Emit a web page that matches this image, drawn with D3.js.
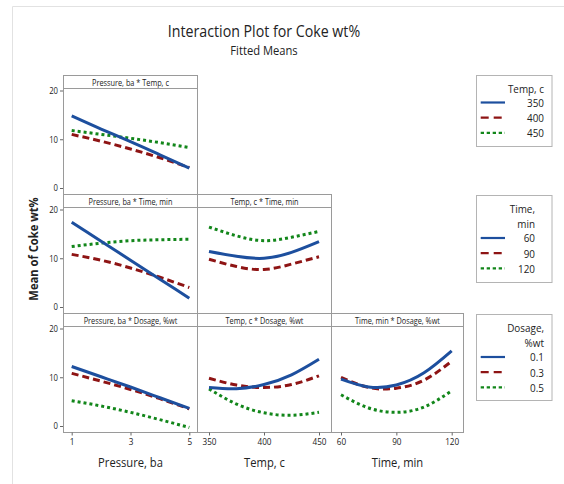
<!DOCTYPE html>
<html><head><meta charset="utf-8">
<script src="https://cdn.jsdelivr.net/npm/d3@7"></script>
<style>body{margin:0;background:#fff} text{font-family:"Open Sans",sans-serif;fill:#222}</style>
</head><body><svg id="c" width="564" height="484"></svg>
<script>
// ---- data ----
const pressure = [1, 2, 3, 4, 5];
const temps = [350, 375, 400, 425, 450];
const times = [60, 75, 90, 105, 120];
const yTicks = [0, 10, 20];

// Pressure * Temp (Temp 350 / 400 / 450)
const pT350 = [14.8, 12.1, 9.5, 6.8, 4.1];
const pT400 = [11.0, 9.6, 8.0, 6.2, 4.2];
const pT450 = [11.8, 11.0, 10.2, 9.3, 8.3];
// Pressure * Time (60 / 90 / 120)
const pTi60 = [17.4, 13.5, 9.6, 5.7, 1.8];
const pTi90 = [10.8, 9.6, 8.0, 6.1, 4.0];
const pTi120 = [12.4, 13.1, 13.6, 13.8, 13.9];
// Temp * Time (60 / 90 / 120)
const tTi60 = [11.4, 10.4, 10.0, 11.2, 13.4];
const tTi90 = [9.8, 8.3, 7.7, 8.8, 10.3];
const tTi120 = [16.4, 14.6, 13.6, 14.3, 15.5];
// Pressure * Dosage (0.1 / 0.3 / 0.5)
const pD01 = [12.2, 10.1, 8.0, 5.8, 3.6];
const pD03 = [10.8, 9.2, 7.5, 5.6, 3.5];
const pD05 = [5.2, 4.1, 2.8, 1.3, -0.3];
// Temp * Dosage
const tD01 = [7.9, 7.65, 8.5, 10.5, 13.7];
const tD03 = [9.8, 8.4, 7.9, 8.5, 10.3];
const tD05 = [7.6, 4.5, 2.7, 2.2, 2.8];
// Time * Dosage
const tiD01 = [9.6, 8.0, 8.4, 10.9, 15.4];
const tiD03 = [10.0, 7.9, 7.75, 9.4, 13.3];
const tiD05 = [6.4, 3.7, 2.8, 3.9, 7.2];

const legendTemp = ["350", "400", "450"];
const legendTime = ["60", "90", "120"];
const legendDosage = ["0.1", "0.3", "0.5"];
const pressureTicks = [1, 3, 5];
const tempTicks = [350, 400, 450];
const timeTicks = [60, 90, 120];

// ---- layout ----
const svg = d3.select("#c");
const colors = ["#1d4f9e", "#8e1414", "#12861a"];
const dashes = [null, "7,4", "3,3"];
const widths = [3, 3, 3];

const colL = [63.5, 197.5, 331.5], colR = [197.5, 331.5, 463.5];
const rowT = [75.5, 194.5, 313.5], rowB = [194.5, 313.5, 432.5];
const stripH = 13;

const xScales = [
  d3.scaleLinear().domain([1, 5]).range([71.7, 189.3]),
  d3.scaleLinear().domain([350, 450]).range([209, 319]),
  d3.scaleLinear().domain([60, 120]).range([341, 451.7])
];
const xVals = [pressure, temps, times];
const yScales = rowT.map((t, i) => d3.scaleLinear().domain([0, 20]).range([rowB[i] - 6.5, t + stripH + 2]));

const panels = [
  {r:0, c:0, title:"Pressure, ba * Temp, c", s:[pT350, pT400, pT450]},
  {r:1, c:0, title:"Pressure, ba * Time, min", s:[pTi60, pTi90, pTi120]},
  {r:1, c:1, title:"Temp, c * Time, min", s:[tTi60, tTi90, tTi120]},
  {r:2, c:0, title:"Pressure, ba * Dosage, %wt", s:[pD01, pD03, pD05]},
  {r:2, c:1, title:"Temp, c * Dosage, %wt", s:[tD01, tD03, tD05]},
  {r:2, c:2, title:"Time, min * Dosage, %wt", s:[tiD01, tiD03, tiD05]}
];

// outer frame (left + top)
svg.append("path").attr("d", "M12.5,484 V6.5 H564").attr("fill", "none").attr("stroke", "#e2e2e2");

// title
svg.append("text").attr("x", 264).attr("y", 37).attr("text-anchor", "middle").attr("font-size", 16.5).text("Interaction Plot for Coke wt%");
svg.append("text").attr("x", 264).attr("y", 55).attr("text-anchor", "middle").attr("font-size", 13).text("Fitted Means");

const lineGen = (xs, xsc, ysc) => d3.line().x((d, i) => xsc(xs[i])).y(d => ysc(d)).curve(d3.curveNatural);

panels.forEach(p => {
  const g = svg.append("g");
  const L = colL[p.c], R = colR[p.c], T = rowT[p.r], B = rowB[p.r];
  g.append("rect").attr("x", L).attr("y", T).attr("width", R - L).attr("height", B - T)
    .attr("fill", "#fff").attr("stroke", "#9a9a9a");
  g.append("line").attr("x1", L).attr("x2", R).attr("y1", T + stripH).attr("y2", T + stripH).attr("stroke", "#9a9a9a");
  g.append("text").attr("x", (L + R) / 2).attr("y", T + 10.5).attr("text-anchor", "middle")
    .attr("font-size", 8.5).text(p.title);
  const xs = xVals[p.c], xsc = xScales[p.c], ysc = yScales[p.r];
  [2, 1, 0].forEach(k => {
    g.append("path").datum(p.s[k]).attr("d", lineGen(xs, xsc, ysc))
      .attr("fill", "none").attr("stroke", colors[k]).attr("stroke-width", widths[k])
      .attr("stroke-dasharray", dashes[k]);
  });
});

// y axes on first column
[0, 1, 2].forEach(r => {
  const ax = d3.axisLeft(yScales[r]).tickValues(yTicks).tickFormat(d3.format("d")).tickSize(3).tickPadding(2);
  const g = svg.append("g").attr("transform", `translate(${colL[0] - 0.5},0)`).call(ax);
  g.select(".domain").remove();
  g.selectAll("line").attr("stroke", "#666");
  g.selectAll("text").attr("font-size", 9).attr("fill", "#222").attr("font-family", "Open Sans");
});

// x axes at bottom row
const xTickVals = [pressureTicks, tempTicks, timeTicks];
const xTitles = ["Pressure, ba", "Temp, c", "Time, min"];
[0, 1, 2].forEach(c => {
  const ax = d3.axisBottom(xScales[c]).tickValues(xTickVals[c]).tickFormat(d3.format("d")).tickSize(3).tickPadding(3);
  const g = svg.append("g").attr("transform", `translate(0,${rowB[2]})`).call(ax);
  g.select(".domain").remove();
  g.selectAll("line").attr("stroke", "#666");
  g.selectAll("text").attr("font-size", 9.5).attr("fill", "#222").attr("font-family", "Open Sans");
  svg.append("text").attr("x", (colL[c] + colR[c]) / 2).attr("y", 467).attr("text-anchor", "middle")
    .attr("font-size", 13).text(xTitles[c]);
});

// y title
svg.append("text").attr("transform", "translate(38,249) rotate(-90)").attr("text-anchor", "middle")
  .attr("font-size", 13).attr("font-weight", "bold").text("Mean of Coke wt%");

// legends
const legends = [
  {top:75, bottom:146, titles:["Temp, c"], items:legendTemp, tx:544, vx:544},
  {top:195, bottom:282, titles:["Time,", "min"], items:legendTime, tx:535, vx:535},
  {top:314, bottom:400, titles:["Dosage,", "%wt"], items:legendDosage, tx:544, vx:544}
];
const legDash = [null, "8,5", "3.3,2.7"];
legends.forEach(lg => {
  const g = svg.append("g");
  g.append("rect").attr("x", 476.5).attr("y", lg.top + 0.5).attr("width", 75.5).attr("height", lg.bottom - lg.top)
    .attr("fill", "#fff").attr("stroke", "#b4b4b4");
  let y = lg.top + 17.5;
  lg.titles.forEach((t, i) => {
    g.append("text").attr("x", lg.tx).attr("y", y + i * 15.5).attr("text-anchor", "end").attr("font-size", 11.5).text(t);
  });
  const y0 = y + (lg.titles.length - 1) * 15.5 + 10;
  lg.items.forEach((v, k) => {
    const yy = y0 + k * 15.2;
    g.append("line").attr("x1", 480.7).attr("x2", 505).attr("y1", yy).attr("y2", yy)
      .attr("stroke", colors[k]).attr("stroke-width", 2.2).attr("stroke-dasharray", legDash[k]);
    g.append("text").attr("x", lg.vx).attr("y", yy + 4.3).attr("text-anchor", "end").attr("font-size", 11.5).text(v);
  });
});

// horizontally condense text to mimic narrow UI font
svg.selectAll("text").each(function() {
  const len = this.getComputedTextLength();
  if (len > 0) d3.select(this).attr("textLength", len * 0.86).attr("lengthAdjust", "spacingAndGlyphs");
});
</script></body></html>
